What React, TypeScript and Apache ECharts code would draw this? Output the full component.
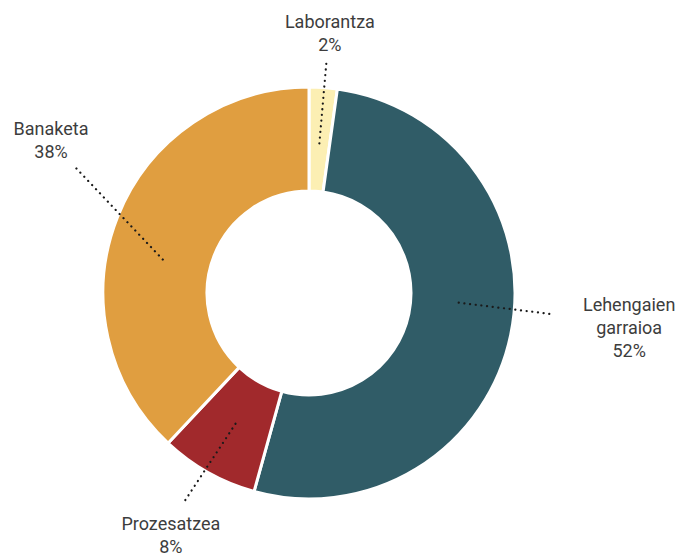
import React, { useEffect, useRef } from "react";
import * as echarts from "echarts";

// ---- data ----
const categories = ["Laborantza", "Lehengaien garraioa", "Prozesatzea", "Banaketa"];
const shares = [2.2, 52.1, 7.7, 38.0];

// ---- styles ----
const pieCenter = [309, 293];
const sliceColors = ["#FCEFB3", "#305C67", "#A1292C", "#E09E40"];
const lineStartShift = [0, -8, 0, -8.7]; // degrees around the centre
const lineTilt = [1, -4.7, 4, 24.9]; // degrees, clockwise, relative to radial
const lineLength = [81, 93, 95, 129];
const labelNudge = [
  [1, -1],
  [26, 7],
  [6, 4],
  [3, 1],
];

const rot = (x: number, y: number, deg: number) => {
  const t = (deg * Math.PI) / 180;
  return [x * Math.cos(t) - y * Math.sin(t), x * Math.sin(t) + y * Math.cos(t)];
};

export default function App() {
  const ref = useRef<HTMLDivElement>(null);

  useEffect(() => {
    document.body.style.margin = "0";
    if (!ref.current) return;
    const chart = echarts.init(ref.current, undefined, { renderer: "svg" });
    const data = categories.map((name, i) => ({ name, value: shares[i] }));

    const option: any = {
      animation: false,
      backgroundColor: "#ffffff",
      series: [
        {
          type: "pie",
          z: 1,
          center: pieCenter,
          radius: [102, 206],
          startAngle: 90,
          clockwise: true,
          silent: true,
          avoidLabelOverlap: false,
          label: { show: false },
          labelLine: { show: false },
          itemStyle: { borderColor: "#ffffff", borderWidth: 3 },
          emphasis: { disabled: true },
          data: data.map((d, i) => ({ ...d, itemStyle: { color: sliceColors[i] } })),
        },
        {
          type: "pie",
          z: 5,
          center: pieCenter,
          radius: [0, 150],
          startAngle: 90,
          clockwise: true,
          silent: true,
          avoidLabelOverlap: false,
          itemStyle: { color: "rgba(0,0,0,0)", borderWidth: 0 },
          emphasis: { disabled: true },
          label: {
            show: true,
            position: "outside",
            fontFamily: "Roboto",
            fontWeight: 400,
            fontSize: 18,
            lineHeight: 23,
            color: "#3d3d3d",
            formatter: (p: any) =>
              p.name.replace(" ", "\n") + "\n" + Math.round(p.percent) + "%",
          },
          labelLine: {
            show: true,
            length: 20,
            length2: 0,
            lineStyle: {
              color: "#1a1a1a",
              width: 2.2,
              type: [0.1, 5.6],
              cap: "round",
            },
          },
          labelLayout: (params: any) => {
            const pts = params.labelLinePoints;
            if (!pts || pts.length < 2) return {};
            const i = params.dataIndex;
            const a0 = pts[0];
            const b = pts[1];
            let dx = b[0] - a0[0];
            let dy = b[1] - a0[1];
            const n = Math.hypot(dx, dy) || 1;
            dx /= n;
            dy /= n;
            const s = rot(a0[0] - pieCenter[0], a0[1] - pieCenter[1], lineStartShift[i]);
            const a = [pieCenter[0] + s[0], pieCenter[1] + s[1]];
            const [rx, ry] = rot(dx, dy, lineTilt[i]);
            const L = lineLength[i];
            const end = [a[0] + rx * L, a[1] + ry * L];
            const w = params.labelRect.width / 2;
            const h = params.labelRect.height / 2;
            const tx = Math.abs(rx) > 1e-6 ? w / Math.abs(rx) : Infinity;
            const ty = Math.abs(ry) > 1e-6 ? h / Math.abs(ry) : Infinity;
            const t = Math.min(tx, ty) + 6;
            return {
              x: end[0] + rx * t + labelNudge[i][0],
              y: end[1] + ry * t + labelNudge[i][1],
              align: "center",
              verticalAlign: "middle",
              labelLinePoints: [a, end],
            };
          },
          data,
        },
      ],
    };
    chart.setOption(option);
    return () => chart.dispose();
  }, []);

  return <div ref={ref} style={{ width: 678, height: 555 }} />;
}
